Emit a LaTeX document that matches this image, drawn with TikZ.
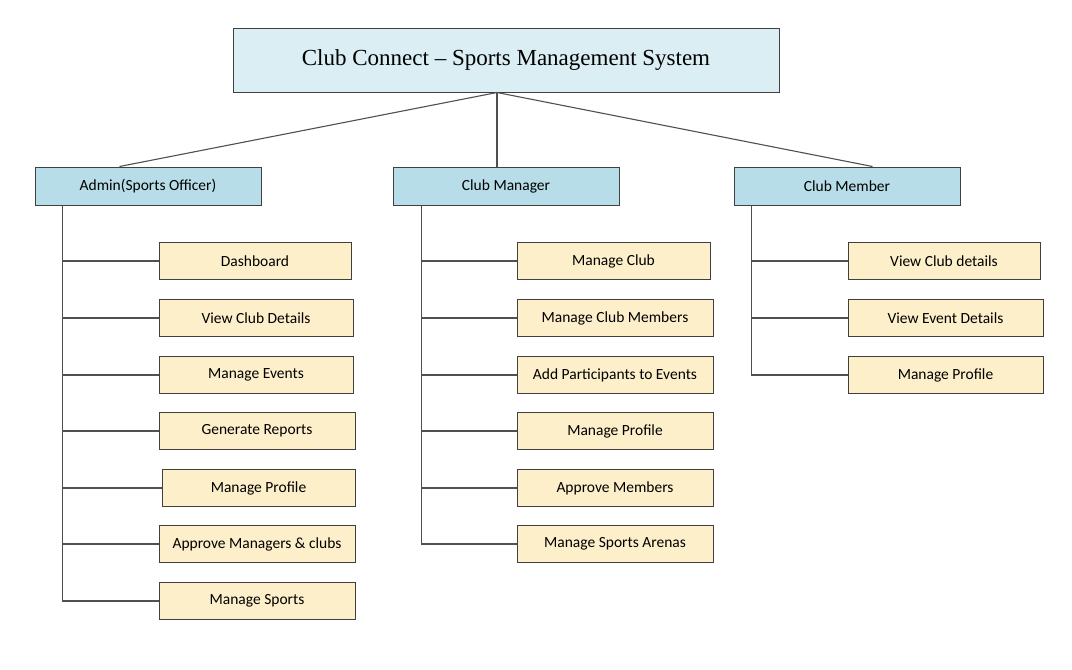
\documentclass[tikz,border=0pt]{standalone}
\usepackage{fontspec}
\setmainfont{Carlito}
\newfontfamily\titlefont{Liberation Serif}
\usetikzlibrary{calc}
\definecolor{titlefill}{HTML}{DBEEF3}
\definecolor{rolefill}{HTML}{B7DDE8}
\definecolor{itemfill}{HTML}{FDEFC9}
\definecolor{edge}{HTML}{404040}
\definecolor{wire}{HTML}{505050}
\tikzset{
  titlebox/.style={draw=edge, fill=titlefill, line width=1pt, minimum width=546pt, minimum height=64pt, inner sep=0pt, font=\titlefont\fontsize{23}{26}\selectfont},
  rolebox/.style={draw=edge, fill=rolefill, line width=1pt, minimum width=226pt, minimum height=38pt, inner sep=0pt, font=\fontsize{15.5}{18}\selectfont},
  itembox/.style={draw=edge, fill=itemfill, line width=1pt, minimum height=37pt, inner sep=0pt, font=\fontsize{15.5}{18}\selectfont},
  wireline/.style={draw=wire, line width=1.1pt},
}
\begin{document}
\begin{tikzpicture}[x=1pt, y=-1pt]
\useasboundingbox (0,0) rectangle (1072,670);
\fill[white] (0,0) rectangle (1072,670);
\node[titlebox] (title) at (506,60) {Club Connect – Sports Management System};
\node[rolebox] (admin) at (148,186) {Admin(Sports Officer)};
\node[rolebox] (mgr) at (506,186) {Club Manager};
\node[rolebox] (mem) at (847,186) {Club Member};

% admin items
\node[itembox, minimum width=192pt] (a1) at (255,261) {Dashboard};
\node[itembox, minimum width=194pt] (a2) at (256,318) {View Club Details};
\node[itembox, minimum width=194pt] (a3) at (256,375) {Manage Events};
\node[itembox, minimum width=196pt] (a4) at (257,431) {Generate Reports};
\node[itembox, minimum width=193pt] (a5) at (258.5,488) {Manage Profile};
\node[itembox, minimum width=196pt] (a6) at (257,544) {Approve Managers \& clubs};
\node[itembox, minimum width=196pt] (a7) at (257,601) {Manage Sports};

% manager items
\node[itembox, minimum width=193pt] (m1) at (613.5,261) {Manage Club};
\node[itembox, minimum width=196pt] (m2) at (615,318) {Manage Club Members};
\node[itembox, minimum width=196pt] (m3) at (615,375) {Add Participants to Events};
\node[itembox, minimum width=196pt] (m4) at (615,431) {Manage Profile};
\node[itembox, minimum width=196pt] (m5) at (615,488) {Approve Members};
\node[itembox, minimum width=196pt] (m6) at (615,544) {Manage Sports Arenas};

% member items
\node[itembox, minimum width=192pt] (c1) at (944,261) {View Club details};
\node[itembox, minimum width=195pt] (c2) at (945.5,318) {View Event Details};
\node[itembox, minimum width=195pt] (c3) at (945.5,375) {Manage Profile};

% top connectors
\coordinate (tb) at ($(title.south)+(-9,0)$);
\draw[wireline] (tb) -- ($(admin.north west)+(85,0)$);
\draw[wireline] (tb) -- (tb|-mgr.north);
\draw[wireline] (tb) -- ($(mem.north west)+(139,0)$);

% trunks
\coordinate (ta) at ($(admin.south west)+(28,0)$);
\coordinate (tm) at ($(mgr.south west)+(29,0)$);
\coordinate (tc) at ($(mem.south west)+(18,0)$);

\draw[wireline] (ta) |- (a7.west);
\foreach \n in {a1,a2,a3,a4,a5,a6} \draw[wireline] (ta|-\n.west) -- (\n.west);
\draw[wireline] (tm) |- (m6.west);
\foreach \n in {m1,m2,m3,m4,m5} \draw[wireline] (tm|-\n.west) -- (\n.west);
\draw[wireline] (tc) |- (c3.west);
\foreach \n in {c1,c2} \draw[wireline] (tc|-\n.west) -- (\n.west);
\end{tikzpicture}
\end{document}
